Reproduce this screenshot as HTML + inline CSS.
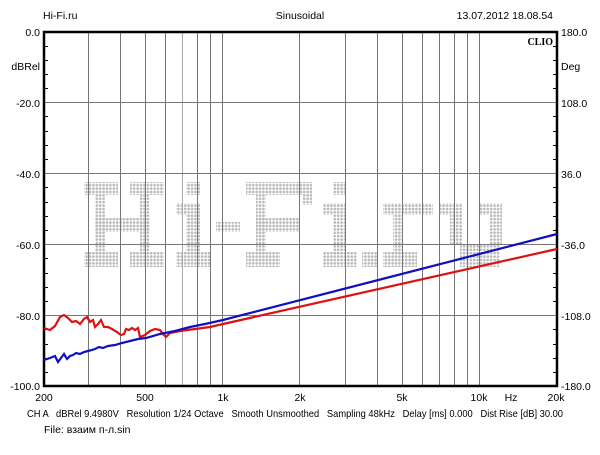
<!DOCTYPE html>
<html><head><meta charset="utf-8"><style>
body{margin:0;background:#fff;}
svg text{font-family:"Liberation Sans",sans-serif;font-size:10.5px;fill:#000;}
</style></head><body>
<svg width="600" height="450" xmlns="http://www.w3.org/2000/svg">
<defs>
<pattern id="dp" width="3.4" height="3.4" patternUnits="userSpaceOnUse">
<circle cx="1.6" cy="1.6" r="1.3" fill="#b8b8b8"/>
</pattern>
</defs>
<rect width="600" height="450" fill="#fff"/>
<text x="43" y="19">Hi-Fi.ru</text>
<text x="300" y="19" text-anchor="middle">Sinusoidal</text>
<text x="553" y="19" text-anchor="end">13.07.2012 18.08.54</text>
<g fill="url(#dp)">
<rect x="84" y="182" width="34" height="13"/><rect x="130" y="182" width="34" height="13"/>
<rect x="95" y="195" width="10" height="60"/><rect x="140" y="195" width="10" height="60"/>
<rect x="95" y="218" width="55" height="14"/>
<rect x="84" y="252" width="34" height="15"/><rect x="130" y="252" width="34" height="15"/>
<rect x="186" y="182" width="14" height="13"/><rect x="176" y="203" width="24" height="12"/>
<rect x="186" y="215" width="14" height="40"/><rect x="176" y="252" width="34" height="15"/>
<rect x="216" y="222" width="24" height="10"/>
<rect x="246" y="182" width="56" height="13"/><rect x="302" y="182" width="10" height="23"/>
<rect x="256" y="195" width="10" height="60"/><rect x="256" y="218" width="44" height="14"/>
<rect x="246" y="252" width="34" height="15"/>
<rect x="333" y="182" width="12" height="13"/>
<rect x="323" y="203" width="22" height="12"/><rect x="333" y="215" width="12" height="40"/>
<rect x="323" y="252" width="34" height="15"/><rect x="362" y="252" width="15" height="15"/>
<rect x="383" y="203" width="50" height="12"/><rect x="393" y="215" width="10" height="40"/>
<rect x="383" y="252" width="34" height="15"/>
<rect x="440" y="203" width="22" height="12"/><rect x="450" y="215" width="12" height="30"/>
<rect x="480" y="203" width="22" height="12"/><rect x="490" y="215" width="12" height="30"/>
<rect x="460" y="245" width="40" height="22"/>
</g>
<g stroke="#777" stroke-width="1">
<line x1="88.5" y1="32" x2="88.5" y2="386"/><line x1="120.5" y1="32" x2="120.5" y2="386"/>
<line x1="145.5" y1="32" x2="145.5" y2="386"/><line x1="165.5" y1="32" x2="165.5" y2="386"/>
<line x1="182.5" y1="32" x2="182.5" y2="386" stroke="#aaa"/><line x1="197.5" y1="32" x2="197.5" y2="386"/>
<line x1="210.5" y1="32" x2="210.5" y2="386"/><line x1="222.5" y1="32" x2="222.5" y2="386"/>
<line x1="299.5" y1="32" x2="299.5" y2="386"/><line x1="345.5" y1="32" x2="345.5" y2="386"/>
<line x1="377.5" y1="32" x2="377.5" y2="386"/><line x1="402.5" y1="32" x2="402.5" y2="386"/>
<line x1="422.5" y1="32" x2="422.5" y2="386"/><line x1="439.5" y1="32" x2="439.5" y2="386"/>
<line x1="454.5" y1="32" x2="454.5" y2="386"/><line x1="467.5" y1="32" x2="467.5" y2="386"/>
<line x1="479.5" y1="32" x2="479.5" y2="386"/>
<line x1="44" y1="102.5" x2="557" y2="102.5"/><line x1="44" y1="173.5" x2="557" y2="173.5"/>
<line x1="44" y1="244.5" x2="557" y2="244.5"/><line x1="44" y1="315.5" x2="557" y2="315.5"/>
</g>
<g stroke="#000" stroke-width="1">
<path d="M44 46.5h4M44 60.5h4M44 74.5h4M44 88.5h4M44 116.5h4M44 131.5h4M44 145.5h4M44 159.5h4M44 187.5h4M44 202.5h4M44 216.5h4M44 230.5h4M44 258.5h4M44 273.5h4M44 287.5h4M44 301.5h4M44 329.5h4M44 344.5h4M44 358.5h4M44 372.5h4"/>
<path d="M557 46.5h-4M557 60.5h-4M557 74.5h-4M557 88.5h-4M557 116.5h-4M557 131.5h-4M557 145.5h-4M557 159.5h-4M557 187.5h-4M557 202.5h-4M557 216.5h-4M557 230.5h-4M557 258.5h-4M557 273.5h-4M557 287.5h-4M557 301.5h-4M557 329.5h-4M557 344.5h-4M557 358.5h-4M557 372.5h-4"/>
</g>
<rect x="44" y="32" width="513" height="354" fill="none" stroke="#000" stroke-width="2.5"/>
<text x="553" y="45" text-anchor="end" style="font-family:'Liberation Serif',serif;font-weight:bold;font-size:10px">CLIO</text>
<path fill="none" stroke="#dd1111" stroke-width="2.2" d="M44 328 L50 330 L55 326 L60 317 L64 315 L68 318 L72 322 L76 321 L80 324 L84 319 L87 317 L90 322 L93 320 L95 327 L98 324 L101 320 L104 327 L108 327 L112 329 L117 332 L121 335 L124 334 L126 329 L129 330 L132 328 L135 330 L138 328 L140 337 L145 335 L150 331 L155 329 L160 330 L163 334 L166 337 L170 333 L180 331 L195 329 L210 327 L223 324 L557 249"/>
<path fill="none" stroke="#1010c0" stroke-width="2.2" d="M44 360 L50 358 L55 356 L58 362 L61 358 L64 354 L67 359 L70 356 L73 355 L76 353 L80 354 L84 352 L88 351 L92 350 L95 349 L99 347 L103 348 L108 346 L115 345 L122 343 L130 341 L138 339 L146 338 L160 334 L175 331 L190 327 L205 324 L223 320 L557 234"/>
<text x="40" y="36" text-anchor="end">0.0</text>
<text x="40" y="70" text-anchor="end">dBRel</text>
<text x="40" y="107" text-anchor="end">-20.0</text>
<text x="40" y="178" text-anchor="end">-40.0</text>
<text x="40" y="249" text-anchor="end">-60.0</text>
<text x="40" y="320" text-anchor="end">-80.0</text>
<text x="40" y="390" text-anchor="end">-100.0</text>
<text x="561" y="36">180.0</text>
<text x="561" y="70">Deg</text>
<text x="561" y="107">108.0</text>
<text x="561" y="178">36.0</text>
<text x="561" y="249">-36.0</text>
<text x="561" y="320">-108.0</text>
<text x="561" y="390">-180.0</text>
<text x="44" y="401" text-anchor="middle">200</text>
<text x="145" y="401" text-anchor="middle">500</text>
<text x="223" y="401" text-anchor="middle">1k</text>
<text x="300" y="401" text-anchor="middle">2k</text>
<text x="402" y="401" text-anchor="middle">5k</text>
<text x="479" y="401" text-anchor="middle">10k</text>
<text x="511" y="401" text-anchor="middle">Hz</text>
<text x="556" y="401" text-anchor="middle">20k</text>
<text x="27" y="417" textLength="536" lengthAdjust="spacingAndGlyphs" xml:space="preserve">CH A   dBRel 9.4980V   Resolution 1/24 Octave   Smooth Unsmoothed   Sampling 48kHz   Delay [ms] 0.000   Dist Rise [dB] 30.00</text>
<text x="44" y="433">File: взаим п-л.sin</text>
</svg>
</body></html>
